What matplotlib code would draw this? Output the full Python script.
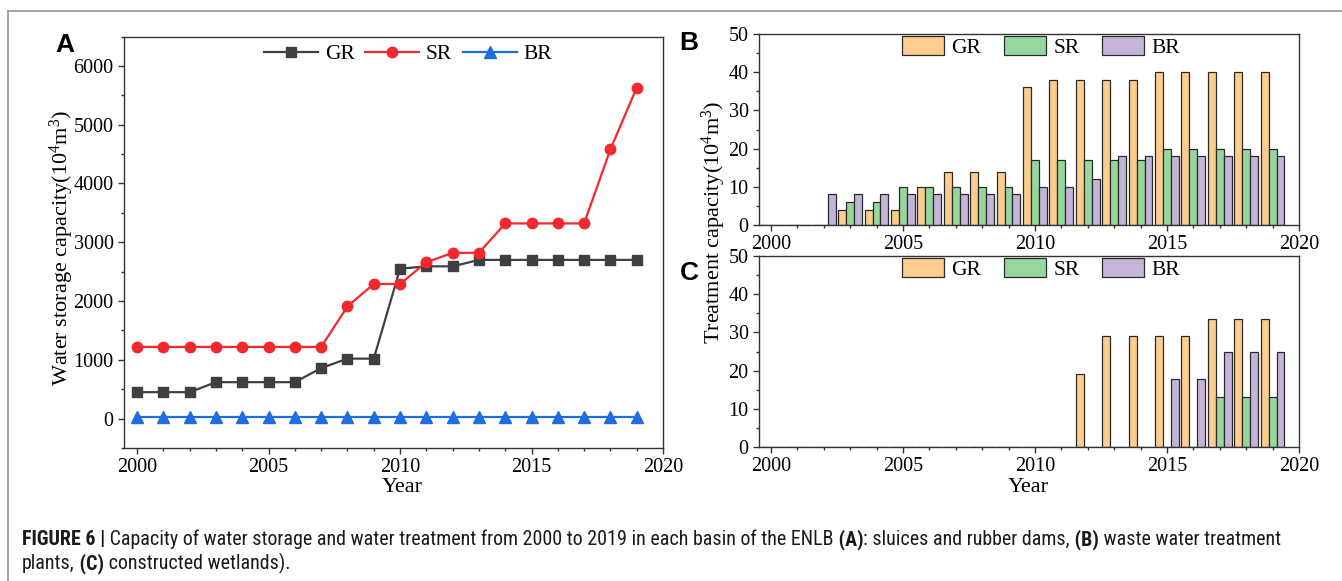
import matplotlib
matplotlib.use("Agg")
import matplotlib.pyplot as plt
from matplotlib import font_manager
from matplotlib.font_manager import FontProperties
from matplotlib.lines import Line2D
from matplotlib.ticker import MultipleLocator

# --- values ---
years = list(range(2000, 2020))
basins = ["GR", "SR", "BR"]

# (A) water storage capacity (10^4 m3): sluices and rubber dams
storage_gr = [450, 450, 450, 620, 620, 620, 620, 860, 1020, 1020,
              2550, 2590, 2590, 2700, 2700, 2700, 2700, 2700, 2700, 2700]
storage_sr = [1220, 1220, 1220, 1220, 1220, 1220, 1220, 1220, 1910, 2290,
              2290, 2660, 2820, 2820, 3320, 3320, 3320, 3320, 4580, 5630]
storage_br = [20, 20, 20, 20, 20, 20, 20, 20, 20, 20,
              20, 20, 20, 20, 20, 20, 20, 20, 20, 20]

# (B) waste water treatment plants
plant_gr = [0, 0, 0, 4, 4, 4, 10, 14, 14, 14, 36, 38, 38, 38, 38, 40, 40, 40, 40, 40]
plant_sr = [0, 0, 0, 6, 6, 10, 10, 10, 10, 10, 17, 17, 17, 17, 17, 20, 20, 20, 20, 20]
plant_br = [0, 0, 8, 8, 8, 8, 8, 8, 8, 8, 10, 10, 12, 18, 18, 18, 18, 18, 18, 18]

# (C) constructed wetlands
wetland_gr = [0, 0, 0, 0, 0, 0, 0, 0, 0, 0, 0, 0, 19, 29, 29, 29, 29, 33.5, 33.5, 33.5]
wetland_sr = [0, 0, 0, 0, 0, 0, 0, 0, 0, 0, 0, 0, 0, 0, 0, 0, 0, 13, 13, 13]
wetland_br = [0, 0, 0, 0, 0, 0, 0, 0, 0, 0, 0, 0, 0, 0, 0, 17.7, 17.7, 25, 25, 25]

# --- style ---
W, H = 1342, 581
LINE_COLORS = ["#3f3f3f", "#f2282d", "#1f6ee0"]
MARKERS = ["s", "o", "^"]
BAR_COLORS = ["#fdcd8f", "#97d69c", "#c4b5d8"]
BAR_OFFSETS = [-0.3, 0.0, 0.3]
SPINE = "#333333"

plt.rcParams["font.family"] = "Liberation Serif"
plt.rcParams["mathtext.fontset"] = "custom"
plt.rcParams["mathtext.rm"] = "Liberation Serif"
plt.rcParams["mathtext.it"] = "Liberation Serif:italic"


# caption is set in a condensed grotesque; use one if the machine has it
def weight_num(w):
    if isinstance(w, str):
        return font_manager.weight_dict.get(w, 400)
    return w


def find_caption_fonts():
    prefer = ["Liberation Sans Narrow", "Roboto Condensed", "Noto Sans", "Open Sans",
              "Roboto", "Lato", "Inter", "DejaVu Sans"]
    narrow = [f for f in font_manager.fontManager.ttflist
              if f.style == "normal" and str(f.stretch) in
              ("condensed", "semi-condensed", "extra-condensed", "ultra-condensed", "narrow")]
    for fam in prefer:
        regs = [f for f in narrow if f.name == fam and weight_num(f.weight) == 400]
        bolds = [f for f in narrow if f.name == fam and weight_num(f.weight) == 700]
        if regs and bolds:
            return (FontProperties(fname=regs[0].fname), FontProperties(fname=bolds[0].fname))
    return (FontProperties(family="Liberation Sans"),
            FontProperties(family="Liberation Sans", weight="bold"))


CAP_REG, CAP_BOLD = find_caption_fonts()

fig = plt.figure(figsize=(W / 100, H / 100), dpi=100)


def add_axes_px(left, top, right, bottom):
    return fig.add_axes([left / W, 1 - bottom / H, (right - left) / W, (bottom - top) / H])


def style_axes(ax):
    for s in ax.spines.values():
        s.set_color(SPINE)
        s.set_linewidth(1.0)
    ax.tick_params(which="both", direction="out", top=False, right=False,
                   color=SPINE, width=1.0, labelsize=14.5)
    ax.tick_params(which="major", length=4.5, pad=3)
    ax.tick_params(which="minor", length=2.5)
    ax.xaxis.set_major_locator(MultipleLocator(5))
    ax.xaxis.set_minor_locator(MultipleLocator(1))


# frame around the figure (top and left only)
fig.add_artist(Line2D([7.5 / W, 7.5 / W], [0, 1 - 10.5 / H], color="#8a8a8a", lw=1.1))
fig.add_artist(Line2D([7.5 / W, 1], [1 - 10.5 / H, 1 - 10.5 / H], color="#8a8a8a", lw=1.1))

# --- (A) line chart ---
axA = add_axes_px(124, 36.5, 663, 448)
for vals, col, mk, ms, lab in zip([storage_gr, storage_sr, storage_br], LINE_COLORS,
                                  MARKERS, [6.5, 7.5, 8], basins):
    axA.plot(years, vals, color=col, marker=mk, ms=ms, lw=1.6, label=lab)
axA.set_xlim(1999.5, 2020)
axA.set_ylim(-500, 6500)
axA.yaxis.set_major_locator(MultipleLocator(1000))
axA.yaxis.set_minor_locator(MultipleLocator(500))
style_axes(axA)
axA.legend(loc="upper center", bbox_to_anchor=(0.527, 1.0), ncol=3, frameon=False,
           fontsize=15.5, handlelength=2.5, handletextpad=0.3, columnspacing=0.5,
           borderaxespad=0.0, borderpad=0.35)


# --- (B) and (C) bar charts ---
def bar_panel(ax, series):
    for vals, off, col, lab in zip(series, BAR_OFFSETS, BAR_COLORS, basins):
        ax.bar([y + off for y in years], vals, width=0.3, color=col,
               edgecolor="#2b2b2b", linewidth=0.9, label=lab)
    ax.set_xlim(1999.55, 2020)
    ax.set_ylim(0, 50)
    ax.yaxis.set_major_locator(MultipleLocator(10))
    ax.yaxis.set_minor_locator(MultipleLocator(5))
    style_axes(ax)
    ax.legend(loc="upper center", bbox_to_anchor=(0.522, 1.0), ncol=3, frameon=False,
              fontsize=15.5, handlelength=1.95, handleheight=0.95, handletextpad=0.35,
              columnspacing=1.05, borderaxespad=0.0, borderpad=0.1)


axB = add_axes_px(759, 34, 1299, 225)
bar_panel(axB, [plant_gr, plant_sr, plant_br])
axC = add_axes_px(759, 256, 1299, 447)
bar_panel(axC, [wetland_gr, wetland_sr, wetland_br])

# --- labels ---
def ftext(x, y, s, **kw):
    return fig.text(x / W, 1 - y / H, s, **kw)


ftext(62, 248, r"Water storage capacity(10$^4$m$^3$)", rotation=90,
      ha="center", va="center", fontsize=16)
ftext(714, 222, r"Treatment capacity(10$^4$m$^3$)", rotation=90,
      ha="center", va="center", fontsize=16)
ftext(402, 487, "Year", ha="center", va="center", fontsize=16)
ftext(1028, 487, "Year", ha="center", va="center", fontsize=16)
for letter, (x, y) in zip("ABC", [(65, 45.5), (689, 43), (689, 273)]):
    ftext(x, y, letter, ha="center", va="center", fontsize=19,
          family="Liberation Sans", fontweight="bold")

# --- caption with bold pieces ---
line1 = [("FIGURE 6 |", True),
         (" Capacity of water storage and water treatment from 2000 to 2019 in each basin of the ENLB", False),
         (" (A)", True), (": sluices and rubber dams,", False), (" (B)", True),
         (" waste water treatment", False)]
line2 = [("plants,", False), (" (C)", True), (" constructed wetlands).", False)]

renderer = fig.canvas.get_renderer()


def caption_line(parts, x0, y_base, size):
    x = x0
    made = []
    for s, bold in parts:
        fp = (CAP_BOLD if bold else CAP_REG).copy()
        fp.set_size(size)
        t = ftext(x, y_base, s, ha="left", va="baseline", fontproperties=fp, color="#1a1a1a")
        x = t.get_window_extent(renderer).x1
        made.append(t)
    return x - x0, made


width, tmp = caption_line(line1, 22, 545, 12)
for t in tmp:
    t.remove()
cap_size = 12 * 1258 / width
caption_line(line1, 22, 545, cap_size)
caption_line(line2, 22, 569, cap_size)

fig.savefig("out.png", dpi=100)
